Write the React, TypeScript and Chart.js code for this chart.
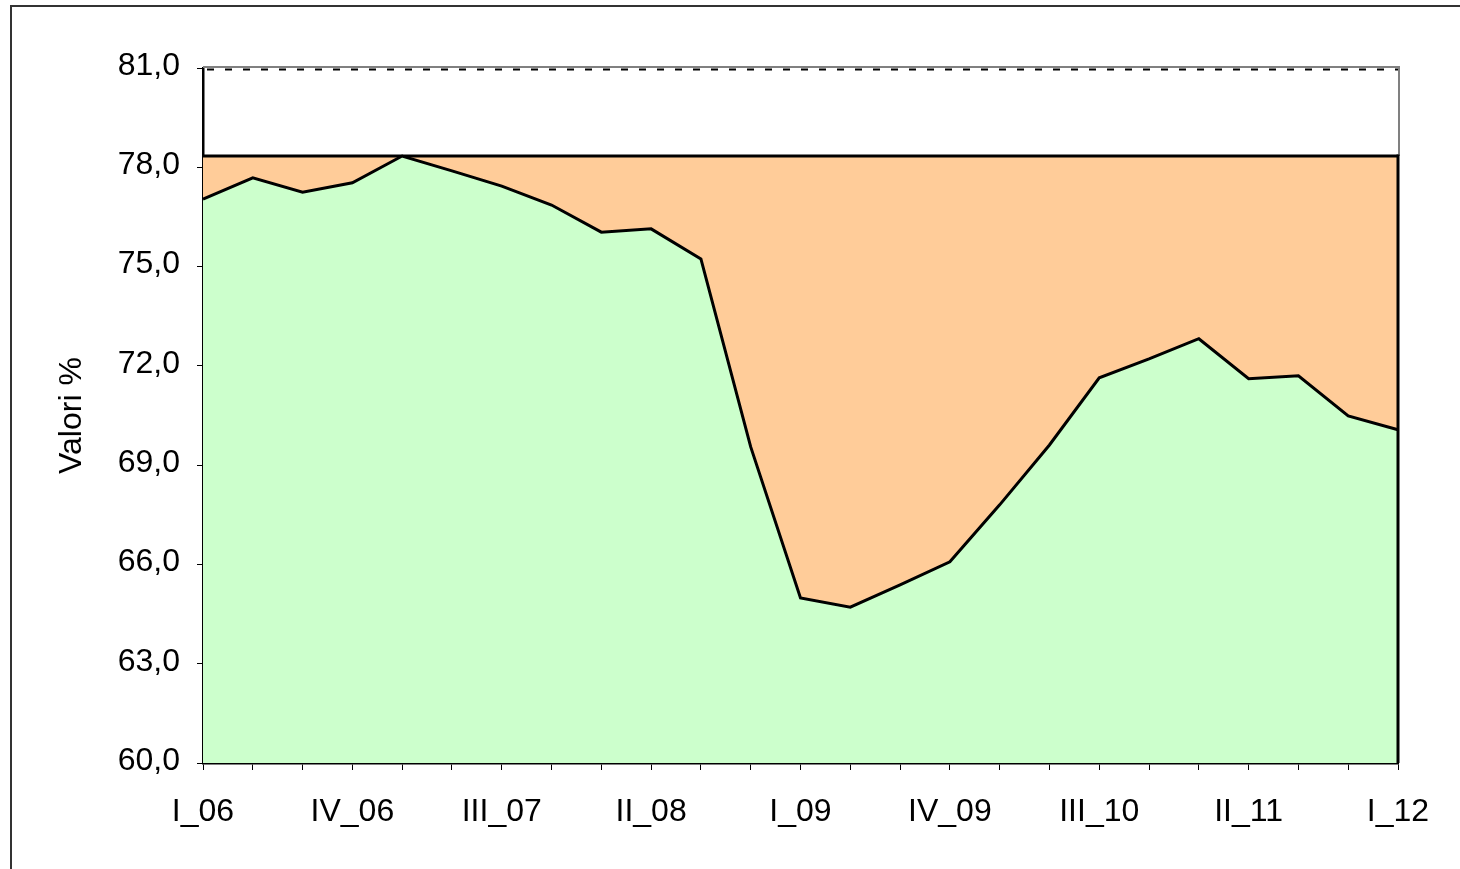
import React, { useEffect, useRef } from 'react';
import { Chart, registerables } from 'chart.js';

Chart.register(...registerables);

const categories = [
  'I_06', 'II_06', 'III_06', 'IV_06',
  'I_07', 'II_07', 'III_07', 'IV_07',
  'I_08', 'II_08', 'III_08', 'IV_08',
  'I_09', 'II_09', 'III_09', 'IV_09',
  'I_10', 'II_10', 'III_10', 'IV_10',
  'I_11', 'II_11', 'III_11', 'IV_11',
  'I_12',
];

const valori = [
  77.04, 77.68, 77.25, 77.53,
  78.34, 77.89, 77.43, 76.86,
  76.04, 76.14, 75.23, 69.55,
  64.99, 64.71, 65.38, 66.08,
  67.80, 69.61, 71.64, 72.21,
  72.82, 71.61, 71.70, 70.49,
  70.07,
];

const massimo = [
  78.34, 78.34, 78.34, 78.34,
  78.34, 78.34, 78.34, 78.34,
  78.34, 78.34, 78.34, 78.34,
  78.34, 78.34, 78.34, 78.34,
  78.34, 78.34, 78.34, 78.34,
  78.34, 78.34, 78.34, 78.34,
  78.34,
];

const yMin = 60;
const yMax = 81;
const yStep = 3;
const labelEvery = 3;

const FONT = "'Liberation Sans', Arial, sans-serif";

const framePlugin = {
  id: 'frame',
  afterDatasetsDraw(chart: any) {
    const { ctx, chartArea, scales } = chart;
    const xs = scales.x;
    const ys = scales.y;
    const xr = xs.getPixelForValue(categories.length - 1);
    const yTop = ys.getPixelForValue(yMax);
    const yBot = ys.getPixelForValue(yMin);
    const yM = ys.getPixelForValue(massimo[massimo.length - 1]);
    ctx.save();
    ctx.strokeStyle = '#808080';
    ctx.lineWidth = 2;
    ctx.beginPath();
    ctx.moveTo(chartArea.left, yTop - 1);
    ctx.lineTo(xr + 1, yTop - 1);
    ctx.lineTo(xr + 1, yM);
    ctx.stroke();
    ctx.strokeStyle = '#000';
    ctx.lineWidth = 2;
    ctx.setLineDash([7, 11]);
    ctx.beginPath();
    ctx.moveTo(chartArea.left + 4, yTop + 1.5);
    ctx.lineTo(xr, yTop + 1.5);
    ctx.stroke();
    ctx.setLineDash([]);
    ctx.lineWidth = 3;
    ctx.beginPath();
    ctx.moveTo(xr, yM - 1.5);
    ctx.lineTo(xr, yBot);
    ctx.stroke();
    ctx.restore();
  },
};

export default function App() {
  const ref = useRef<HTMLCanvasElement>(null);

  useEffect(() => {
    const chart = new Chart(ref.current as HTMLCanvasElement, {
      type: 'line',
      data: {
        labels: categories,
        datasets: [
          {
            label: 'Valori',
            data: valori,
            borderColor: '#000',
            borderWidth: 3,
            backgroundColor: '#CCFFCC',
            fill: 'start',
            pointRadius: 0,
            tension: 0,
          },
          {
            label: 'Massimo',
            data: massimo,
            borderColor: '#000',
            borderWidth: 3,
            backgroundColor: '#FFCC99',
            fill: '-1',
            pointRadius: 0,
            tension: 0,
          },
        ],
      },
      options: {
        responsive: false,
        devicePixelRatio: 1,
        animation: false,
        layout: { padding: { top: 68, right: 62, bottom: 0, left: 0 } },
        plugins: {
          legend: { display: false },
          tooltip: { enabled: false },
        },
        scales: {
          x: {
            z: 1,
            afterFit: (s: any) => { s.height = 106; },
            grid: {
              display: true,
              drawOnChartArea: false,
              drawTicks: true,
              tickLength: 7,
              color: '#000',
              lineWidth: 1,
            },
            border: { display: true, color: '#000', width: 2.5 },
            ticks: {
              autoSkip: false,
              maxRotation: 0,
              minRotation: 0,
              padding: 23,
              color: '#000',
              font: { family: FONT, size: 32 },
              callback: (_v: any, i: number) => (i % labelEvery === 0 ? categories[i] : ''),
            },
          },
          y: {
            z: 1,
            min: yMin,
            max: yMax,
            afterFit: (s: any) => { s.width = 203; },
            grid: {
              display: true,
              drawOnChartArea: false,
              drawTicks: true,
              tickLength: 6,
              color: '#000',
              lineWidth: 1,
            },
            border: { display: true, color: '#000', width: 2.5 },
            ticks: {
              stepSize: yStep,
              padding: 17,
              labelOffset: -2,
              color: '#000',
              font: { family: FONT, size: 32 },
              callback: (v: any) => Number(v).toFixed(1).replace('.', ','),
            },
            title: {
              display: true,
              text: 'Valori %',
              color: '#000',
              font: { family: FONT, size: 32 },
              padding: { top: 53, bottom: 0 },
            },
          },
        },
      },
      plugins: [framePlugin],
    });
    return () => chart.destroy();
  }, []);

  return (
    <div style={{ position: 'fixed', left: 0, top: 0, width: 1460, height: 869, background: '#fff', overflow: 'hidden' }}>
      <div style={{ position: 'absolute', left: 10, top: 5, width: 1500, height: 900, border: '2px solid #333', boxSizing: 'border-box' }} />
      <canvas ref={ref} width={1460} height={869} style={{ position: 'absolute', left: 0, top: 0, width: 1460, height: 869, display: 'block' }} />
    </div>
  );
}
